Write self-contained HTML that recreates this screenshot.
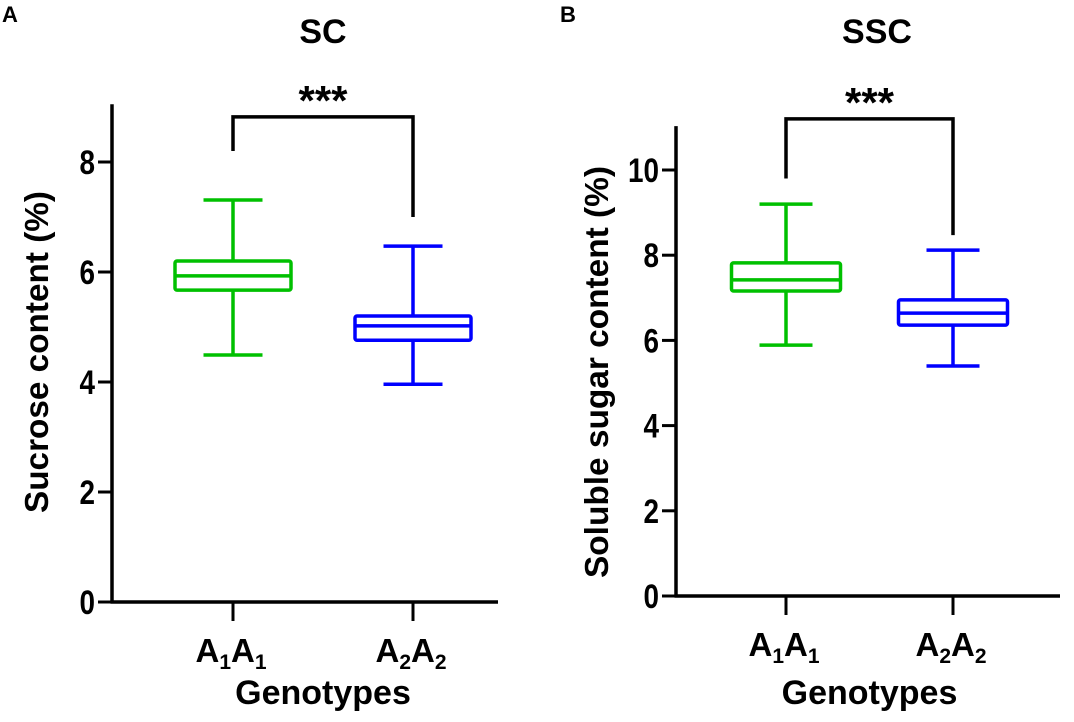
<!DOCTYPE html>
<html><head><meta charset="utf-8"><style>
html,body{margin:0;padding:0;background:#fff;}
svg{display:block;font-family:"Liberation Sans",sans-serif;font-weight:bold;}
</style></head><body>
<svg id="fig" width="1074" height="722" viewBox="0 0 1074 722"></svg>
<script>
const categories = ["A1A1", "A2A2"];
const scMin = [4.49, 3.96];
const scQ1 = [5.67, 4.76];
const scMed = [5.93, 5.02];
const scQ3 = [6.2, 5.2];
const scMax = [7.31, 6.47];
const scTicks = [0, 2, 4, 6, 8];
const scBracket = [8.82, 8.2, 7.0];
const sscMin = [5.89, 5.4];
const sscQ1 = [7.16, 6.36];
const sscMed = [7.42, 6.64];
const sscQ3 = [7.82, 6.95];
const sscMax = [9.2, 8.12];
const sscTicks = [0, 2, 4, 6, 8, 10];
const sscBracket = [11.2, 9.8, 8.47];
const colors = ["#00c000", "#0000ff"];

const NS = "http://www.w3.org/2000/svg";
const svg = document.getElementById("fig");
function mk(tag, attrs, parent, text){
  const e = document.createElementNS(NS, tag);
  for (const k in attrs) e.setAttribute(k, attrs[k]);
  if (text !== undefined) e.textContent = text;
  (parent || svg).appendChild(e);
  return e;
}
function panel(cfg){
  const g = mk("g", {});
  
  
  const y = v => cfg.y0 - v * cfg.k;
  const ya = mk("line", {x1:cfg.ax, y1:y(cfg.top), x2:cfg.ax, y2:cfg.y0+1.5, stroke:"#000","stroke-width":3.5}, g);
  
  
  const xa = mk("line", {x1:cfg.ax-1.5, y1:cfg.y0, x2:cfg.xend, y2:cfg.y0, stroke:"#000","stroke-width":3.5}, g);
  
  
  cfg.ticks.forEach(t => {
    mk("line", {x1:cfg.ax-14, y1:y(t), x2:cfg.ax, y2:y(t), stroke:"#000","stroke-width":3}, g);
    const tl = mk("text", {x:0, y:0, "text-anchor":"end","font-size":34, transform:`translate(${cfg.ax-17},${y(t)+12}) scale(0.82,1)`}, g, String(t));
    
    
  });
  cfg.cx.forEach((cx, i) => {
    mk("line", {x1:cx, y1:cfg.y0, x2:cx, y2:cfg.y0+19, stroke:"#000","stroke-width":3}, g);
    const lab = mk("text", {x:cx-2, y:cfg.y0+60, "text-anchor":"middle","font-size":33}, g);
    
    
    const c = categories[i];
    mk("tspan", {}, lab, c[0]);
    mk("tspan", {"font-size":21, dy:7}, lab, c[1]);
    mk("tspan", {dy:-7}, lab, c[2]);
    mk("tspan", {"font-size":21, dy:7}, lab, c[3]);
    const col = colors[i], hw = cfg.bw/2, cw = cfg.cw/2;
    const bg = mk("g", {stroke:col, "stroke-width":3.5, fill:"none"}, g);
    
    
    mk("line", {x1:cx, y1:y(cfg.max[i]), x2:cx, y2:y(cfg.q3[i])}, bg);
    mk("line", {x1:cx, y1:y(cfg.q1[i]), x2:cx, y2:y(cfg.min[i])}, bg);
    mk("line", {x1:cx-cw, y1:y(cfg.max[i]), x2:cx+cw, y2:y(cfg.max[i])}, bg);
    mk("line", {x1:cx-cw, y1:y(cfg.min[i]), x2:cx+cw, y2:y(cfg.min[i])}, bg);
    mk("rect", {x:cx-hw, y:y(cfg.q3[i]), width:cfg.bw, height:y(cfg.q1[i])-y(cfg.q3[i]), rx:2}, bg);
    mk("line", {x1:cx-hw, y1:y(cfg.med[i]), x2:cx+hw, y2:y(cfg.med[i])}, bg);
  });
  const b = cfg.bracket;
  const br = mk("path", {d:`M${cfg.cx[0]},${y(b[1])} V${y(b[0])} H${cfg.cx[1]} V${y(b[2])}`, stroke:"#000","stroke-width":3.5, fill:"none"}, g);
  
  
  const st = mk("text", {x:(cfg.cx[0]+cfg.cx[1])/2, y:y(b[0])-2, "text-anchor":"middle","font-size":42}, g, "***");
  
  
  const ti = mk("text", {x:cfg.tx, y:43, "text-anchor":"middle","font-size":34}, g, cfg.title);
  
  
  const xt = mk("text", {x:(cfg.cx[0]+cfg.cx[1])/2, y:704, "text-anchor":"middle","font-size":34}, g, "Genotypes");
  
  
  const yt = mk("text", {x:0, y:0, "text-anchor":"middle","font-size":33, textLength:cfg.ylen, lengthAdjust:"spacingAndGlyphs", transform:`translate(${cfg.ytx},${cfg.yty}) rotate(-90)`}, g, cfg.ytitle);
  
  
  const pl = mk("text", {x:cfg.plx, y:22, "font-size":22}, g, cfg.plabel);
  
  
}
panel({name:"panel-a-sc", ax:112, y0:602, k:55, top:9.05, xend:498, cx:[233,413], bw:116, cw:59,
  min:scMin,q1:scQ1,med:scMed,q3:scQ3,max:scMax,ticks:scTicks,bracket:scBracket,
  title:"SC", tx:323, ytitle:"Sucrose content (%)", ylen:322, ytx:48, yty:352, plabel:"A", plx:2});
panel({name:"panel-b-ssc", ax:676, y0:596, k:42.6, top:11.03, xend:1060, cx:[786,953], bw:109, cw:53,
  min:sscMin,q1:sscQ1,med:sscMed,q3:sscQ3,max:sscMax,ticks:sscTicks,bracket:sscBracket,
  title:"SSC", tx:877, ytitle:"Soluble sugar content (%)", ylen:412, ytx:608, yty:372, plabel:"B", plx:560});
</script>
</body></html>
